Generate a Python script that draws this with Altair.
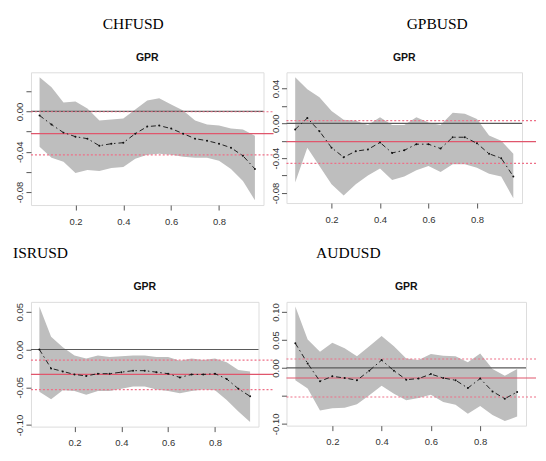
import altair as alt
import pandas as pd

taus = [0.05, 0.10, 0.15, 0.20, 0.25, 0.30, 0.35, 0.40, 0.45, 0.50,
        0.55, 0.60, 0.65, 0.70, 0.75, 0.80, 0.85, 0.90, 0.95]

names = ["CHFUSD", "GPBUSD", "ISRUSD", "AUDUSD"]
panel_title = "GPR"

chf_coef = [-0.004, -0.013, -0.021, -0.025, -0.027, -0.034, -0.032, -0.031, -0.022, -0.015,
            -0.014, -0.017, -0.022, -0.027, -0.029, -0.032, -0.036, -0.044, -0.057]
chf_hi = [0.034, 0.024, 0.009, 0.010, 0.003, -0.009, -0.008, -0.007, 0.002, 0.011,
          0.013, 0.007, 0.001, -0.009, -0.013, -0.014, -0.017, -0.018, -0.024]
chf_lo = [-0.035, -0.046, -0.050, -0.061, -0.058, -0.059, -0.056, -0.055, -0.047, -0.043,
          -0.042, -0.043, -0.045, -0.046, -0.046, -0.049, -0.057, -0.069, -0.088]

gpb_coef = [-0.007, 0.006, -0.009, -0.028, -0.039, -0.032, -0.030, -0.022, -0.034, -0.031,
            -0.024, -0.024, -0.029, -0.016, -0.016, -0.023, -0.035, -0.040, -0.061]
gpb_hi = [0.053, 0.039, 0.030, 0.014, 0.004, 0.003, -0.002, 0.007, -0.002, -0.002,
          0.007, 0.001, -0.002, 0.012, 0.011, 0.005, -0.014, -0.020, -0.035]
gpb_lo = [-0.068, -0.028, -0.049, -0.070, -0.083, -0.070, -0.060, -0.052, -0.065, -0.061,
          -0.054, -0.049, -0.056, -0.047, -0.047, -0.051, -0.058, -0.061, -0.086]

isr_coef = [0.000, -0.025, -0.029, -0.033, -0.035, -0.032, -0.032, -0.030, -0.028, -0.028,
            -0.030, -0.032, -0.037, -0.033, -0.033, -0.032, -0.039, -0.052, -0.062]
isr_hi = [0.057, 0.017, 0.003, -0.008, -0.012, -0.008, -0.010, -0.009, -0.008, -0.008,
          -0.010, -0.010, -0.015, -0.012, -0.014, -0.012, -0.017, -0.027, -0.029]
isr_lo = [-0.056, -0.066, -0.054, -0.055, -0.060, -0.055, -0.055, -0.052, -0.049, -0.049,
          -0.053, -0.055, -0.058, -0.055, -0.053, -0.054, -0.067, -0.082, -0.096]

aud_coef = [0.044, 0.008, -0.024, -0.015, -0.018, -0.022, -0.005, 0.014, -0.005, -0.021,
            -0.019, -0.011, -0.018, -0.022, -0.036, -0.019, -0.042, -0.055, -0.043]
aud_hi = [0.110, 0.051, 0.029, 0.045, 0.035, 0.021, 0.039, 0.057, 0.039, 0.017,
          0.014, 0.025, 0.022, 0.021, 0.010, 0.026, -0.002, -0.014, -0.002]
aud_lo = [-0.022, -0.037, -0.076, -0.072, -0.071, -0.065, -0.049, -0.032, -0.046, -0.058,
          -0.054, -0.048, -0.061, -0.066, -0.082, -0.068, -0.084, -0.095, -0.087]

# OLS estimate and its confidence bounds (red lines)
ols_est = [-0.022, -0.021, -0.033, -0.018]
ols_hi = [-0.0003, 0.003, -0.014, 0.016]
ols_lo = [-0.043, -0.046, -0.053, -0.052]

# y-axis ticks and their labels
chf_ticks = [0.02, 0.0, -0.02, -0.04, -0.06, -0.08]
chf_tick_labels = ["", "0.00", "", "-0.04", "", "-0.08"]
gpb_ticks = [0.04, 0.02, 0.0, -0.02, -0.04, -0.06, -0.08]
gpb_tick_labels = ["0.04", "", "0.00", "", "-0.04", "", "-0.08"]
isr_ticks = [0.05, 0.0, -0.05, -0.10]
isr_tick_labels = ["0.05", "0.00", "-0.05", "-0.10"]
aud_ticks = [0.10, 0.05, 0.0, -0.05, -0.10]
aud_tick_labels = ["0.10", "0.05", "0.00", "", "-0.10"]

x_ticks = [0.2, 0.4, 0.6, 0.8]

RED = "#e0566c"
RED_DOT = "#ee7088"


def label_expr(ticks, labels):
    expr = "''"
    for v, lab in reversed(list(zip(ticks, labels))):
        expr = f"abs(datum.value - ({v})) < 1e-9 ? '{lab}' : ({expr})"
    return expr


def panel(idx, coef, lo, hi, ticks, labels, width, height, extend,
          name_x, name_align, spacer=False):
    name = names[idx]
    df = pd.DataFrame({"tau": taus, "coef": coef, "lo": lo, "hi": hi})
    ymin, ymax = min(lo), max(hi)
    ypad = 0.04 * (ymax - ymin)
    xpad = 0.04 * (max(taus) - min(taus))
    xs = alt.Scale(domain=[min(taus) - xpad, max(taus) + xpad], nice=False, zero=False)
    ys = alt.Scale(domain=[ymin - ypad, ymax + ypad], nice=False, zero=False)
    xaxis = alt.Axis(values=x_ticks, format=".1f", title=None, grid=False, domain=False,
                     ticks=True, tickSize=5, tickColor="#555", labelColor="#333",
                     labelFont="Liberation Sans Narrow, Liberation Sans, sans-serif",
                     labelFontSize=9.5, labelPadding=6, labelFlush=False, labelOverlap=False)
    yaxis = alt.Axis(values=ticks, labelExpr=label_expr(ticks, labels), title=None,
                     grid=False, domain=False, ticks=True, tickSize=5, tickColor="#555",
                     labelColor="#333", labelFont="Liberation Sans", labelFontSize=9.5,
                     labelAngle=270, labelAlign="center", labelBaseline="alphabetic",
                     labelPadding=3, labelFlush=False, labelOverlap=False)
    X = alt.X("tau:Q", scale=xs, axis=xaxis)

    band = alt.Chart(df).mark_area(color="#bebebe", opacity=1).encode(
        x=X, y=alt.Y("lo:Q", scale=ys, axis=yaxis), y2="hi:Q")

    zero_df = pd.DataFrame({"v": [0.0]})
    zero = alt.Chart(zero_df).mark_rule(color="#5a5a5a", strokeWidth=1.2).encode(
        y=alt.Y("v:Q", scale=ys, axis=yaxis), x=alt.value(0), x2=alt.value(width))

    est_df = pd.DataFrame({"v": [ols_est[idx]]})
    est = alt.Chart(est_df).mark_rule(color=RED, strokeWidth=1.2).encode(
        y=alt.Y("v:Q", scale=ys, axis=yaxis), x=alt.value(0), x2=alt.value(width + extend))

    ci_df = pd.DataFrame({"v": [ols_lo[idx], ols_hi[idx]]})
    ci = alt.Chart(ci_df).mark_rule(color=RED_DOT, strokeWidth=1.2, strokeDash=[2, 2]).encode(
        y=alt.Y("v:Q", scale=ys, axis=yaxis), x=alt.value(0), x2=alt.value(width + extend))

    line = alt.Chart(df).mark_line(color="#222", strokeWidth=1, strokeDash=[5, 3, 1.5, 3]).encode(
        x=X, y=alt.Y("coef:Q", scale=ys, axis=yaxis))
    pts = alt.Chart(df).mark_circle(color="#111", size=4, opacity=1).encode(
        x=X, y=alt.Y("coef:Q", scale=ys, axis=yaxis))

    tdf = pd.DataFrame({"name": [name], "sub": [panel_title]})
    name_txt = alt.Chart(tdf).mark_text(font="Liberation Serif", fontSize=15.5, color="black",
                                        align=name_align, baseline="alphabetic").encode(
        x=alt.value(name_x), y=alt.value(-43.5), text="name:N")
    sub_txt = alt.Chart(tdf).mark_text(font="Liberation Sans Narrow, Liberation Sans, sans-serif",
                                       fontSize=10.5, fontWeight="bold", color="#111",
                                       align="center", baseline="alphabetic").encode(
        x=alt.value(width / 2), y=alt.value(-11.5), text="sub:N")

    layers = [band, zero, est, ci, line, pts, name_txt, sub_txt]
    if spacer:
        sp = alt.Chart(tdf).mark_rule(opacity=0, strokeWidth=0.01).encode(
            x=alt.value(-22), x2=alt.value(-21), y=alt.value(-63), y2=alt.value(-62))
        layers.append(sp)
    return alt.layer(*layers).properties(width=width, height=height)


p1 = panel(0, chf_coef, chf_lo, chf_hi, chf_ticks, chf_tick_labels, 233, 133, 10,
           102.5, "center", spacer=True)
p2 = panel(1, gpb_coef, gpb_lo, gpb_hi, gpb_ticks, gpb_tick_labels, 236, 131, 14,
           151, "center")
p3 = panel(2, isr_coef, isr_lo, isr_hi, isr_ticks, isr_tick_labels, 228, 125, 15,
           -18, "left")
p4 = panel(3, aud_coef, aud_lo, aud_hi, aud_ticks, aud_tick_labels, 240, 124, 10,
           62, "center")

chart = alt.concat(p1, p2, p3, p4, columns=2, spacing={"row": 97, "column": 23},
                   bounds="flush").properties(
    padding={"left": 0, "top": 0, "right": 0, "bottom": 0}
).configure_view(stroke="#555", strokeWidth=1).configure(background="white")

chart.save("out.html", embed_options={"renderer": "svg", "actions": False})
